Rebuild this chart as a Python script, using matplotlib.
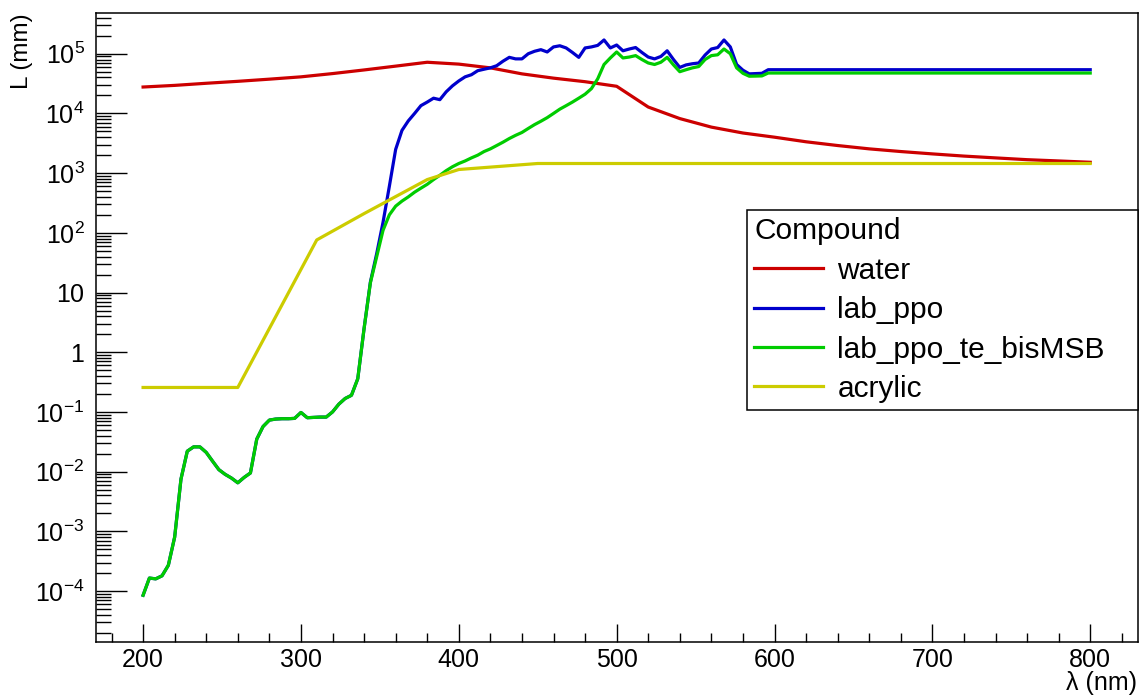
import math
import matplotlib as mpl
mpl.use('Agg')
import matplotlib.pyplot as plt
from matplotlib.ticker import MultipleLocator, LogLocator, FuncFormatter

plt.rcParams['font.family'] = ['Liberation Sans', 'DejaVu Sans']
plt.rcParams['mathtext.fontset'] = 'custom'
plt.rcParams['mathtext.rm'] = 'Liberation Sans'

# attenuation length L (mm) vs wavelength (nm)
water_wl = [200, 220, 240, 260, 280, 300, 320, 340, 360, 380, 400, 420, 440, 460, 480, 500,
            520, 540, 560, 580, 600, 620, 640, 660, 680, 700, 720, 740, 760, 780, 800]
water_L = [2.77e4, 2.95e4, 3.2e4, 3.45e4, 3.75e4, 4.1e4, 4.65e4, 5.35e4, 6.2e4, 7.2e4, 6.7e4,
           5.8e4, 4.6e4, 3.9e4, 3.4e4, 2.85e4, 1.28e4, 8.2e3, 5.9e3, 4.7e3, 4.0e3, 3.35e3,
           2.9e3, 2.55e3, 2.3e3, 2.1e3, 1.93e3, 1.8e3, 1.68e3, 1.6e3, 1.52e3]

# UV part, identical for lab_ppo and lab_ppo_te_bisMSB
uv_wl = [200, 204, 208, 212, 216, 220, 224, 228, 232, 236, 240, 244, 248, 252, 256, 260, 264,
         268, 272, 276, 280, 284, 288, 292, 296, 300, 304, 308, 312, 316, 320, 324, 328, 332,
         336, 340]
uv_L = [8.5e-5, 1.65e-4, 1.6e-4, 1.8e-4, 2.7e-4, 8e-4, 7.5e-3, 2.2e-2, 2.6e-2, 2.6e-2, 2.1e-2,
        1.5e-2, 1.08e-2, 9.0e-3, 7.8e-3, 6.5e-3, 8.0e-3, 9.5e-3, 3.5e-2, 5.7e-2, 7.3e-2,
        7.6e-2, 7.7e-2, 7.7e-2, 7.8e-2, 9.8e-2, 8.0e-2, 8.1e-2, 8.2e-2, 8.2e-2, 0.10, 0.135,
        0.168, 0.19, 0.36, 2.5]

ppo_wl = [344, 348, 352, 356, 360, 364, 368, 372, 376, 380, 384, 388, 392, 396, 400, 404, 408,
          412, 416, 420, 424, 428, 432, 436, 440, 444, 448, 452, 456, 460, 464, 468, 472, 476,
          480, 484, 488, 492, 496, 500, 504, 508, 512, 516, 520, 524, 528, 532, 536, 540, 544,
          548, 552, 556, 560, 564, 568, 572, 576, 580, 584, 588, 592, 596, 800]
ppo_L = [15, 45, 150, 600, 2.5e3, 5.2e3, 7.5e3, 1.0e4, 1.35e4, 1.55e4, 1.8e4, 1.7e4, 2.3e4,
         2.9e4, 3.5e4, 4.1e4, 4.45e4, 5.2e4, 5.5e4, 5.8e4, 6.3e4, 7.5e4, 8.7e4, 8.2e4, 8.2e4,
         1.0e5, 1.1e5, 1.17e5, 1.07e5, 1.3e5, 1.36e5, 1.25e5, 1.05e5, 8.7e4, 1.25e5, 1.3e5,
         1.38e5, 1.7e5, 1.25e5, 1.4e5, 1.12e5, 1.2e5, 1.27e5, 1.05e5, 8.8e4, 8.2e4, 9.0e4,
         1.12e5, 8.0e4, 5.9e4, 6.5e4, 6.8e4, 7.0e4, 9.5e4, 1.2e5, 1.27e5, 1.7e5, 1.3e5, 6.6e4,
         5.3e4, 4.6e4, 4.65e4, 4.7e4, 5.4e4, 5.4e4]

bis_wl = ppo_wl
bis_L = [14.6, 40, 110, 200, 280, 340, 400, 480, 560, 650, 780, 920, 1.1e3, 1.28e3, 1.45e3,
         1.6e3, 1.8e3, 2.0e3, 2.3e3, 2.55e3, 2.9e3, 3.3e3, 3.8e3, 4.3e3, 4.8e3, 5.6e3, 6.5e3,
         7.4e3, 8.5e3, 1.0e4, 1.18e4, 1.35e4, 1.55e4, 1.8e4, 2.1e4, 2.6e4, 3.8e4, 6.6e4, 8.5e4,
         1.07e5, 8.5e4, 8.8e4, 9.3e4, 8.0e4, 7.0e4, 6.6e4, 7.2e4, 8.7e4, 6.5e4, 5.0e4, 5.4e4,
         5.8e4, 6.1e4, 8.0e4, 9.3e4, 9.6e4, 1.2e5, 1.0e5, 5.8e4, 4.7e4, 4.2e4, 4.22e4, 4.25e4,
         4.75e4, 4.75e4]

acrylic_wl = [200, 260, 310, 340, 380, 400, 450, 800]
acrylic_L = [0.257, 0.257, 76, 210, 780, 1.15e3, 1.45e3, 1.45e3]

names = ['water', 'lab_ppo', 'lab_ppo_te_bisMSB', 'acrylic']
colors = ['#cc0000', '#0000cc', '#00cc00', '#cccc00']

fig = plt.figure(figsize=(11.41, 6.98), dpi=100)
ax = fig.add_axes([0.0839, 0.0802, 0.9131, 0.9007])

lw = 2.3
ax.plot(water_wl, water_L, color=colors[0], lw=lw, label=names[0])
ax.plot(uv_wl + ppo_wl, uv_L + ppo_L, color=colors[1], lw=lw, label=names[1])
ax.plot(uv_wl + bis_wl, uv_L + bis_L, color=colors[2], lw=lw, label=names[2])
ax.plot(acrylic_wl, acrylic_L, color=colors[3], lw=lw, label=names[3])

ax.set_yscale('log')
ax.set_xlim(170, 830)
ax.set_ylim(1.4e-5, 4.75e5)

ax.xaxis.set_major_locator(MultipleLocator(100))
ax.xaxis.set_minor_locator(MultipleLocator(20))
ax.yaxis.set_major_locator(LogLocator(base=10, numticks=20))
ax.yaxis.set_minor_locator(LogLocator(base=10, subs=range(2, 10), numticks=40))


def ylab(v, pos):
  if v == 1:
    return r'$\mathregular{1}$'
  if v == 10:
    return r'$\mathregular{10}$'
  return r'$\mathregular{10^{%d}}$' % round(math.log10(v))


ax.yaxis.set_major_formatter(FuncFormatter(ylab))
ax.yaxis.set_minor_formatter(FuncFormatter(lambda v, p: ''))

ax.tick_params(axis='both', which='both', direction='in', top=False, right=False,
               labelsize=18, width=1, color='black')
ax.tick_params(axis='y', which='major', length=22.3, pad=8)
ax.tick_params(axis='y', which='minor', length=10.8)
ax.tick_params(axis='x', which='major', length=13.3, pad=4)
ax.tick_params(axis='x', which='minor', length=6.5)
for s in ax.spines.values():
  s.set_linewidth(1.1)

fig.text(22 / 1141, 1 - 13 / 698, 'L (mm)', rotation=90, ha='center', va='top', fontsize=17.5)
fig.text(1137 / 1141, 1 - 683 / 698, 'λ (nm)', ha='right', va='center', fontsize=18)

leg = ax.legend(title='Compound', loc='upper left', alignment='left',
                bbox_to_anchor=(747 / 1141, 1 - 407 / 698, 391 / 1141, 197 / 698),
                bbox_transform=fig.transFigure, mode='expand', borderaxespad=0,
                fontsize=21.5, title_fontsize=21.5, handlelength=2.28, handletextpad=0.5,
                labelspacing=0.38, borderpad=0.25, fancybox=False, framealpha=1,
                edgecolor='black')
leg.get_frame().set_linewidth(1.1)

plt.savefig('out.png', dpi=100)
plt.close()
